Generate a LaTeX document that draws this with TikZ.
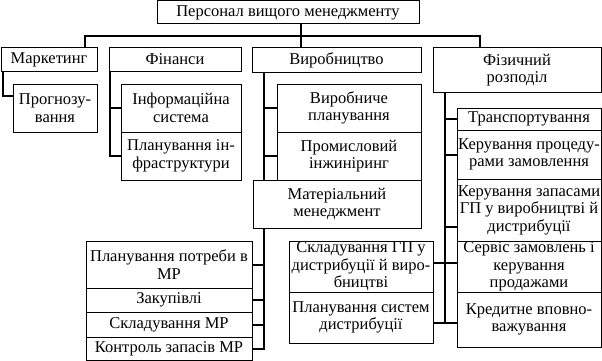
\documentclass[tikz,border=0pt]{standalone}
\usepackage{fontspec}
\setmainfont{Liberation Serif}
\usepackage{tikz}
\usetikzlibrary{calc}

\begin{document}
\begin{tikzpicture}[x=1pt,y=-1pt,
  box/.style={draw,line width=1pt,inner sep=0pt,align=center,font=\fontsize{16.5}{17.5}\selectfont},
  link/.style={line width=2pt}]
  \useasboundingbox (0,0) rectangle (602,361);
  % top and first level
  \node[box,minimum width=262,minimum height=23] (top) at (288,12.5) {Персонал вищого менеджменту};
  \node[box,minimum width=96,minimum height=23] (mkt) at (49,59.5) {Маркетинг};
  \node[box,minimum width=132,minimum height=23] (fin) at (175,59.5) {Фінанси};
  \node[box,minimum width=169,minimum height=24] (vyr) at (336.5,60) {Виробництво};
  \node[box,minimum width=168,minimum height=44] (fiz) at (517,70) {Фізичний\\розподіл};
  % marketing and finance
  \node[box,minimum width=84,minimum height=48] (prog) at (55,108) {Прогнозу-\\вання};
  \node[box,minimum width=120,minimum height=48] (info) at (181,108) {Інформаційна\\система};
  \node[box,minimum width=120,minimum height=48] (infra) at (181,156) {Планування ін-\\фраструктури};
  % production
  \node[box,minimum width=144,minimum height=48] (vplan) at (349,108) {Виробниче\\планування};
  \node[box,minimum width=144,minimum height=48] (prom) at (349,156) {Промисловий\\інжиніринг};
  \node[box,minimum width=168,minimum height=48] (mat) at (337,204) {Матеріальний\\менеджмент};
  \node[box,minimum width=166,minimum height=47] (mrp) at (169,264.5) {Планування потреби в\\МР};
  \node[box,minimum width=166,minimum height=24] (zak) at (169,300) {Закупівлі};
  \node[box,minimum width=166,minimum height=25] (sklmr) at (169,324.5) {Складування МР};
  \node[box,minimum width=166,minimum height=23] (kontr) at (169,348.5) {Контроль запасів МР};
  % physical distribution
  \node[box,minimum width=144,minimum height=51] (sklgp) at (361,266.5) {Складування ГП у\\дистрибуції й виро-\\бництві};
  \node[box,minimum width=144,minimum height=51] (plsys) at (361,317.5) {Планування систем\\дистрибуції};
  \node[box,minimum width=144,minimum height=22] (trans) at (529,119) {Транспортування};
  \node[box,minimum width=144,minimum height=49] (kproc) at (529,154.5) {Керування процеду-\\рами замовлення};
  \node[box,minimum width=144,minimum height=62] (kzap) at (529,210) {Керування запасами\\ГП у виробництві й\\дистрибуції};
  \node[box,minimum width=144,minimum height=51] (serv) at (529,266.5) {Сервіс замовлень і\\керування\\продажами};
  \node[box,minimum width=144,minimum height=55] (kred) at (529,319.5) {Кредитне вповно-\\важування};

  % bus under the top box
  \coordinate (busL) at (85,36);
  \coordinate (busR) at (480,36);
  \coordinate (trunk) at (301,36);
  \draw[link] (busL |- mkt.north) -- (busL) -- (busR) -- (busR |- fiz.north);
  \draw[link] (trunk |- top.south) -- (trunk |- vyr.north);
  % spines
  \coordinate (mktsp) at (3,96);
  \coordinate (finsp) at (110,0);
  \coordinate (vyrsp) at (264,0);
  \coordinate (fizsp) at (445,0);
  \draw[link] (mktsp |- mkt.south) -- (mktsp) -- (prog.west |- mktsp);
  \draw[link] (finsp |- fin.south) -- (finsp |- infra.west) -- (infra.west);
  \draw[link] (finsp |- info.west) -- (info.west);
  \draw[link] (vyrsp |- vyr.south) -- (vyrsp |- mat.north);
  \foreach \n in {vplan,prom} \draw[link] (vyrsp |- \n.west) -- (\n.west);
  \draw[link] (vyrsp |- mat.south) -- (vyrsp |- kontr.east) -- (kontr.east);
  \foreach \n in {mrp,zak,sklmr} \draw[link] (vyrsp |- \n.east) -- (\n.east);
  \coordinate (r1) at (445,227);
  \coordinate (r2) at (445,263);
  \coordinate (r3) at (445,323);
  \draw[link] (fizsp |- fiz.south) -- (r3);
  \foreach \n in {trans,kproc} \draw[link] (fizsp |- \n.west) -- (\n.west);
  \draw[link] (r1) -- (kzap.west |- r1);
  \draw[link] (sklgp.east |- r2) -- (serv.west |- r2);
  \draw[link] (plsys.east |- r3) -- (kred.west |- r3);
\end{tikzpicture}
\end{document}
